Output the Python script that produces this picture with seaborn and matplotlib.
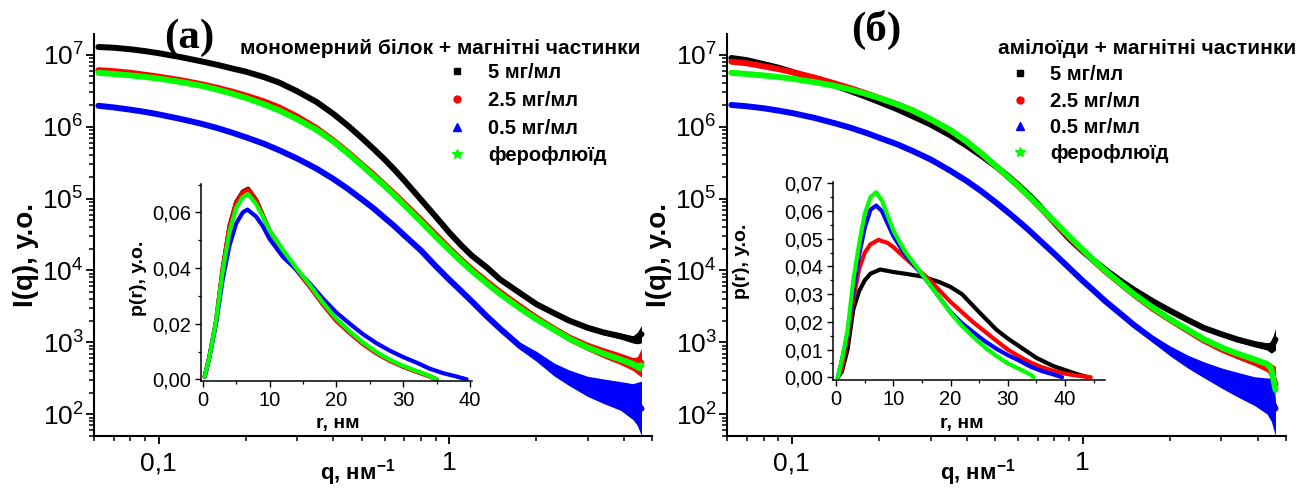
import numpy as np
import matplotlib
matplotlib.use("Agg")
import matplotlib.pyplot as plt
import seaborn as sns
from matplotlib.ticker import (LogLocator, FuncFormatter, NullFormatter,
                               MultipleLocator, FixedLocator)
from matplotlib.lines import Line2D

# ---------------- data ----------------
q = [0.062, 0.07, 0.08, 0.09, 0.1, 0.12, 0.14, 0.16, 0.18, 0.2, 0.23, 0.26, 0.3,
     0.35, 0.4, 0.45, 0.5, 0.55, 0.6, 0.65, 0.7, 0.8, 0.9, 1.0, 1.1, 1.2, 1.35,
     1.5, 1.75, 2.0, 2.3, 2.6, 3.0, 3.4, 3.9, 4.3, 4.45, 4.6]

# panel (a): monomeric protein + magnetic particles
a_black = [1.28e7, 1.25e7, 1.19e7, 1.12e7, 1.05e7, 9.2e6, 8.1e6, 7.2e6, 6.4e6, 5.8e6,
           4.9e6, 4.1e6, 3.1e6, 2.2e6, 1.5e6, 1.02e6, 7.0e5, 4.9e5, 3.5e5, 2.5e5,
           1.8e5, 9.7e4, 5.6e4, 3.4e4, 2.25e4, 1.6e4, 1.1e4, 7.5e3, 4.9e3, 3.4e3,
           2.55e3, 2.0e3, 1.6e3, 1.38e3, 1.22e3, 1.1e3, 1.15e3, 1.3e3]
a_red = [6.1e6, 5.9e6, 5.6e6, 5.25e6, 4.95e6, 4.4e6, 3.9e6, 3.45e6, 3.05e6, 2.7e6,
         2.25e6, 1.85e6, 1.38e6, 9.5e5, 6.4e5, 4.35e5, 3.0e5, 2.15e5, 1.55e5, 1.15e5,
         8.6e4, 5.1e4, 3.15e4, 2.05e4, 1.42e4, 1.03e4, 7.0e3, 5.0e3, 3.2e3, 2.2e3,
         1.55e3, 1.15e3, 880, 720, 590, 500, 480, 520]
a_blue = [1.95e6, 1.85e6, 1.72e6, 1.6e6, 1.48e6, 1.27e6, 1.1e6, 9.5e5, 8.2e5, 7.1e5,
          5.8e5, 4.7e5, 3.6e5, 2.6e5, 1.87e5, 1.35e5, 9.8e4, 7.3e4, 5.4e4, 4.1e4,
          3.1e4, 1.9e4, 1.15e4, 7.5e3, 5.2e3, 3.7e3, 2.3e3, 1.55e3, 900, 640,
          420, 320, 245, 210, 180, 150, 140, 120]
a_green = [5.6e6, 5.4e6, 5.15e6, 4.9e6, 4.65e6, 4.15e6, 3.7e6, 3.25e6, 2.85e6, 2.5e6,
           2.05e6, 1.68e6, 1.27e6, 9.0e5, 6.2e5, 4.2e5, 2.9e5, 2.05e5, 1.5e5, 1.1e5,
           8.2e4, 4.8e4, 2.95e4, 1.95e4, 1.35e4, 9.8e3, 6.6e3, 4.7e3, 3.0e3, 2.1e3,
           1.5e3, 1.12e3, 850, 700, 580, 500, 470, 480]

# spread of the noisy tail (half width, decades)
a_black_err = [0]*28 + [0.01, 0.015, 0.02, 0.025, 0.03, 0.035, 0.04, 0.05, 0.08, 0.12]
a_red_err = [0]*26 + [0.01, 0.015, 0.025, 0.035, 0.045, 0.055, 0.06, 0.07, 0.08, 0.09, 0.12, 0.2]
a_blue_err = [0]*25 + [0.01, 0.02, 0.03, 0.05, 0.07, 0.09, 0.11, 0.14, 0.17, 0.2, 0.25, 0.3, 0.38]
a_green_err = [0]*28 + [0.01, 0.015, 0.02, 0.025, 0.03, 0.035, 0.04, 0.05, 0.06, 0.08]

# panel (b): amyloids + magnetic particles
b_black = [9.0e6, 8.4e6, 7.4e6, 6.6e6, 5.8e6, 4.6e6, 3.75e6, 3.1e6, 2.6e6, 2.2e6,
           1.75e6, 1.4e6, 1.07e6, 7.6e5, 5.4e5, 3.9e5, 2.85e5, 2.1e5, 1.55e5, 1.15e5,
           8.5e4, 4.6e4, 2.75e4, 1.85e4, 1.35e4, 1.02e4, 7.2e3, 5.4e3, 3.7e3, 2.75e3,
           2.05e3, 1.6e3, 1.3e3, 1.1e3, 950, 880, 850, 1.1e3]
b_red = [8.0e6, 7.6e6, 6.9e6, 6.3e6, 5.75e6, 4.8e6, 4.0e6, 3.4e6, 2.9e6, 2.5e6,
         2.05e6, 1.68e6, 1.26e6, 8.9e5, 6.1e5, 4.15e5, 2.88e5, 2.05e5, 1.5e5, 1.1e5,
         8.1e4, 4.7e4, 2.9e4, 1.9e4, 1.32e4, 9.6e3, 6.5e3, 4.6e3, 2.9e3, 2.05e3,
         1.45e3, 1.07e3, 800, 650, 530, 450, 400, 260]
b_blue = [2.0e6, 1.92e6, 1.8e6, 1.67e6, 1.55e6, 1.32e6, 1.12e6, 9.6e5, 8.2e5, 7.0e5,
          5.7e5, 4.6e5, 3.5e5, 2.45e5, 1.75e5, 1.25e5, 9.0e4, 6.6e4, 4.9e4, 3.7e4,
          2.8e4, 1.7e4, 1.08e4, 7.2e3, 5.1e3, 3.7e3, 2.5e3, 1.75e3, 1.1e3, 760,
          540, 420, 320, 260, 210, 180, 160, 120]
b_green = [5.6e6, 5.4e6, 5.15e6, 4.9e6, 4.65e6, 4.15e6, 3.7e6, 3.25e6, 2.85e6, 2.5e6,
           2.05e6, 1.68e6, 1.27e6, 9.0e5, 6.2e5, 4.2e5, 2.9e5, 2.05e5, 1.5e5, 1.1e5,
           8.2e4, 4.8e4, 2.95e4, 1.95e4, 1.35e4, 9.8e3, 6.6e3, 4.7e3, 3.0e3, 2.1e3,
           1.5e3, 1.12e3, 850, 700, 580, 500, 430, 220]

b_black_err = [0]*28 + [0.01, 0.015, 0.02, 0.025, 0.03, 0.035, 0.04, 0.05, 0.08, 0.15]
b_red_err = [0]*28 + [0.01, 0.015, 0.02, 0.03, 0.035, 0.04, 0.05, 0.06, 0.1, 0.25]
b_blue_err = [0]*25 + [0.01, 0.02, 0.03, 0.05, 0.07, 0.09, 0.11, 0.14, 0.17, 0.2, 0.25, 0.3, 0.38]
b_green_err = [0]*28 + [0.01, 0.015, 0.02, 0.025, 0.03, 0.035, 0.04, 0.05, 0.08, 0.15]

# insets: pair distance distribution p(r)
ra_main = [0.3, 1, 2, 3, 4, 5, 6, 6.8, 8, 9, 10, 12, 14, 16, 18, 20, 22, 24, 26, 28,
           30, 32, 34, 35]
pa_black = [0.001, 0.008, 0.021, 0.040, 0.055, 0.0637, 0.0675, 0.0685, 0.0645, 0.059,
            0.0535, 0.0463, 0.0395, 0.0335, 0.027, 0.0212, 0.0168, 0.0128, 0.0095,
            0.0068, 0.0046, 0.0028, 0.0011, 0.0]
pa_red = [0.001, 0.008, 0.021, 0.040, 0.055, 0.0635, 0.0672, 0.0682, 0.0643, 0.0588,
          0.0533, 0.0461, 0.0393, 0.0333, 0.0268, 0.021, 0.0166, 0.0126, 0.0093,
          0.0066, 0.0045, 0.0027, 0.0010, 0.0]
pa_green = [0.001, 0.008, 0.021, 0.039, 0.053, 0.0615, 0.0655, 0.0665, 0.063, 0.0585,
            0.0535, 0.0465, 0.040, 0.034, 0.0275, 0.0218, 0.0172, 0.0132, 0.0098,
            0.007, 0.0048, 0.003, 0.0012, 0.0]
ra_blue = [0.3, 1, 2, 3, 4, 5, 6, 6.7, 8, 9, 10, 12, 14, 16, 18, 20, 22, 24, 26, 28,
           30, 32, 34, 36, 38, 39.5]
pa_blue = [0.001, 0.008, 0.020, 0.036, 0.048, 0.056, 0.0600, 0.061, 0.0585, 0.055,
           0.0505, 0.044, 0.0395, 0.0345, 0.029, 0.024, 0.020, 0.0162, 0.013, 0.0103,
           0.008, 0.006, 0.0038, 0.0022, 0.0010, 0.0]

rb_black = [0.3, 1, 2, 3, 4, 5, 6, 7.7, 10, 12, 15, 18, 20, 22, 25, 28, 30, 32, 35,
            38, 40, 42, 44]
pb_black = [0.0, 0.002, 0.010, 0.0245, 0.0310, 0.035, 0.0374, 0.0389, 0.038, 0.0374,
            0.0364, 0.0344, 0.0326, 0.030, 0.0235, 0.0172, 0.014, 0.0112, 0.007,
            0.004, 0.0026, 0.0012, 0.0]
rb_red = [0.3, 1, 2, 3, 4, 5, 6, 7.4, 9, 10, 12, 14, 16, 18, 20, 22, 24, 26, 28, 30,
          32, 34, 36, 38, 40, 42, 44.5]
pb_red = [0.0, 0.003, 0.0146, 0.028, 0.039, 0.045, 0.048, 0.0496, 0.0485, 0.047,
          0.0432, 0.0395, 0.0358, 0.0315, 0.0272, 0.0235, 0.0198, 0.0165, 0.0132,
          0.010, 0.0075, 0.0053, 0.0036, 0.0023, 0.0013, 0.0006, 0.0]
rb_blue = [0.3, 1, 2, 3, 4, 5, 6, 7, 8, 9, 10, 12, 14, 16, 18, 20, 22, 24, 26, 28,
           30, 32, 34, 36, 38, 39.5]
pb_blue = [0.0, 0.006, 0.016, 0.031, 0.044, 0.054, 0.0605, 0.062, 0.060, 0.0555,
           0.051, 0.0445, 0.0395, 0.0345, 0.029, 0.0235, 0.0195, 0.0162, 0.013,
           0.0103, 0.008, 0.006, 0.0038, 0.0022, 0.001, 0.0]
rb_green = [0.3, 1, 2, 3, 4, 5, 6, 7, 8, 10, 12, 14, 16, 18, 20, 22, 24, 26, 28, 30,
            32, 34, 34.5]
pb_green = [0.0, 0.006, 0.017, 0.035, 0.048, 0.059, 0.065, 0.0668, 0.0638, 0.053,
            0.0455, 0.040, 0.0345, 0.029, 0.0232, 0.0185, 0.0145, 0.0108, 0.0077,
            0.005, 0.003, 0.0009, 0.0]

labels = ["5 мг/мл", "2.5 мг/мл", "0.5 мг/мл", "ферофлюїд"]
colors = ["#000000", "#ff0000", "#0000ff", "#00ff00"]
markers = ["s", "o", "^", "*"]
title_a = "мономерний білок + магнітні частинки"
title_b = "амілоїди + магнітні частинки"

# ---------------- style ----------------
sns.set_theme(style="ticks")
plt.rcParams.update({
    "font.family": ["Liberation Sans", "DejaVu Sans"],
    "mathtext.fontset": "custom",
    "mathtext.rm": "Liberation Sans",
    "mathtext.bf": "Liberation Sans:bold",
    "mathtext.it": "Liberation Sans:italic",
    "axes.edgecolor": "black",
    "text.color": "black",
    "xtick.color": "black",
    "ytick.color": "black",
    "axes.labelcolor": "black",
})

W, H = 1314, 488
fig = plt.figure(figsize=(W / 100, H / 100), dpi=100)


def fx(px):
    return px / W


def fy(py):
    return 1 - py / H


def style_spines(ax, lw=1.5):
    for s in ["top", "right"]:
        ax.spines[s].set_visible(False)
    for s in ["left", "bottom"]:
        ax.spines[s].set_linewidth(lw)
        ax.spines[s].set_color("black")


def draw_main(ax, series, errs):
    for y, e, c in zip(series, errs, colors):
        y = np.asarray(y, float)
        e = np.asarray(e, float)
        m = e > 0
        if m.any():
            idx = max(np.argmax(m) - 1, 0)
            qq = np.asarray(q)[idx:]
            ax.fill_between(qq, y[idx:] / 10 ** e[idx:], y[idx:] * 10 ** e[idx:],
                            color=c, linewidth=0, zorder=2)
        sns.lineplot(x=q, y=y, ax=ax, color=c, linewidth=4.3, legend=False,
                     sort=False, zorder=3)
    ax.set_xscale("log")
    ax.set_yscale("log")
    ax.set_xlim(0.0599, 5.0)
    ax.set_ylim(50, 1.94e7)
    ax.xaxis.set_major_locator(FixedLocator([0.1, 1.0]))
    ax.xaxis.set_major_formatter(FuncFormatter(lambda v, p: "0,1" if v < 0.5 else "1"))
    ax.xaxis.set_minor_locator(LogLocator(base=10, subs=np.arange(2, 10), numticks=30))
    ax.xaxis.set_minor_formatter(NullFormatter())
    ax.yaxis.set_major_locator(LogLocator(base=10, numticks=30))
    ax.yaxis.set_minor_locator(LogLocator(base=10, subs=np.arange(2, 10), numticks=30))
    ax.yaxis.set_minor_formatter(NullFormatter())
    ax.tick_params(which="major", direction="out", length=6, width=1.3, labelsize=19)
    ax.tick_params(axis="x", which="major", pad=5)
    ax.tick_params(axis="y", which="major", pad=1.5)
    ax.tick_params(which="minor", direction="out", length=3.5, width=1.1)
    style_spines(ax)
    ax.set_xlabel(r"q, нм$^{\mathbf{-1}}$", fontsize=16, fontweight="bold")
    ax.set_ylabel("I(q), у.о.", fontsize=20, fontweight="bold")
    ax.yaxis.set_label_coords(-0.099, 0.45)


def draw_inset(ax, rs, ps, xlim, ylim, ymaj, ymin):
    for r, p, c in zip(rs, ps, colors):
        sns.lineplot(x=r, y=p, ax=ax, color=c, linewidth=3.0, legend=False, sort=False)
    ax.set_facecolor("none")
    ax.set_xlim(*xlim)
    ax.set_ylim(*ylim)
    ax.xaxis.set_major_locator(MultipleLocator(10))
    ax.xaxis.set_minor_locator(MultipleLocator(5))
    ax.yaxis.set_major_locator(MultipleLocator(ymaj))
    ax.yaxis.set_minor_locator(MultipleLocator(ymin))
    ax.xaxis.set_major_formatter(FuncFormatter(lambda v, p: f"{v:.0f}"))
    ax.yaxis.set_major_formatter(FuncFormatter(lambda v, p: f"{v:.2f}".replace(".", ",")))
    ax.tick_params(which="major", direction="out", length=4.5, width=1.0,
                   labelsize=14.5, pad=2.5)
    ax.tick_params(which="minor", direction="out", length=2.5, width=0.9)
    style_spines(ax, lw=1.1)
    ax.set_xlabel("r, нм", fontsize=14, fontweight="bold")
    ax.set_ylabel("p(r), у.о.", fontsize=14, fontweight="bold")


def add_legend(ax, left_px, top_px, pad, spacing):
    handles = [Line2D([], [], linestyle="none", marker=mk, color=c, markersize=ms)
               for mk, c, ms in zip(markers, colors, [4.5, 5, 5.5, 7])]
    ax.legend(handles, labels, loc="upper left",
              bbox_to_anchor=(fx(left_px), fy(top_px)), bbox_transform=fig.transFigure,
              frameon=False, prop={"weight": "bold", "size": 14.5},
              handlelength=1.0, handletextpad=pad, labelspacing=spacing,
              borderpad=0, borderaxespad=0)


# ---------------- panel (a) ----------------
ax1 = fig.add_axes([fx(94), fy(436), fx(558), 402 / H])
draw_main(ax1, [a_black, a_red, a_blue, a_green],
          [a_black_err, a_red_err, a_blue_err, a_green_err])
ax1.xaxis.set_label_coords(0.473, -0.052)
add_legend(ax1, 447, 63.5, 1.04, 0.43)
fig.text(fx(640), fy(48), title_a, ha="right", va="center", fontsize=15,
         fontweight="bold")
fig.text(fx(189), fy(38), "(а)", ha="center", va="center", fontsize=31,
         fontweight="bold", family=["Liberation Serif", "DejaVu Serif"])

ins1 = fig.add_axes([fx(200.7), fy(381), fx(271.3), 197 / H])
draw_inset(ins1, [ra_main, ra_main, ra_blue, ra_main],
           [pa_black, pa_red, pa_blue, pa_green],
           (-0.3, 40.3), (-0.0006, 0.0702), 0.02, 0.01)
ins1.yaxis.set_label_coords(-0.198, 0.52)
ins1.xaxis.set_label_coords(0.507, -0.175)

# ---------------- panel (b) ----------------
ax2 = fig.add_axes([fx(727), fy(436), fx(559), 402 / H])
draw_main(ax2, [b_black, b_red, b_blue, b_green],
          [b_black_err, b_red_err, b_blue_err, b_green_err])
ax2.xaxis.set_label_coords(0.449, -0.052)
add_legend(ax2, 1010, 65.5, 1.0, 0.36)
fig.text(fx(1296), fy(48), title_b, ha="right", va="center", fontsize=15,
         fontweight="bold")
fig.text(fx(876), fy(30), "(б)", ha="center", va="center", fontsize=31,
         fontweight="bold", family=["Liberation Serif", "DejaVu Serif"])

ins2 = fig.add_axes([fx(832.7), fy(380), fx(272.3), 198 / H])
draw_inset(ins2, [rb_black, rb_red, rb_blue, rb_green],
           [pb_black, pb_red, pb_blue, pb_green],
           (-0.6, 47), (-0.001, 0.0705), 0.01, 0.005)
ins2.yaxis.set_label_coords(-0.304, 0.6)
ins2.xaxis.set_label_coords(0.475, -0.175)

fig.savefig("out.png", dpi=100)
